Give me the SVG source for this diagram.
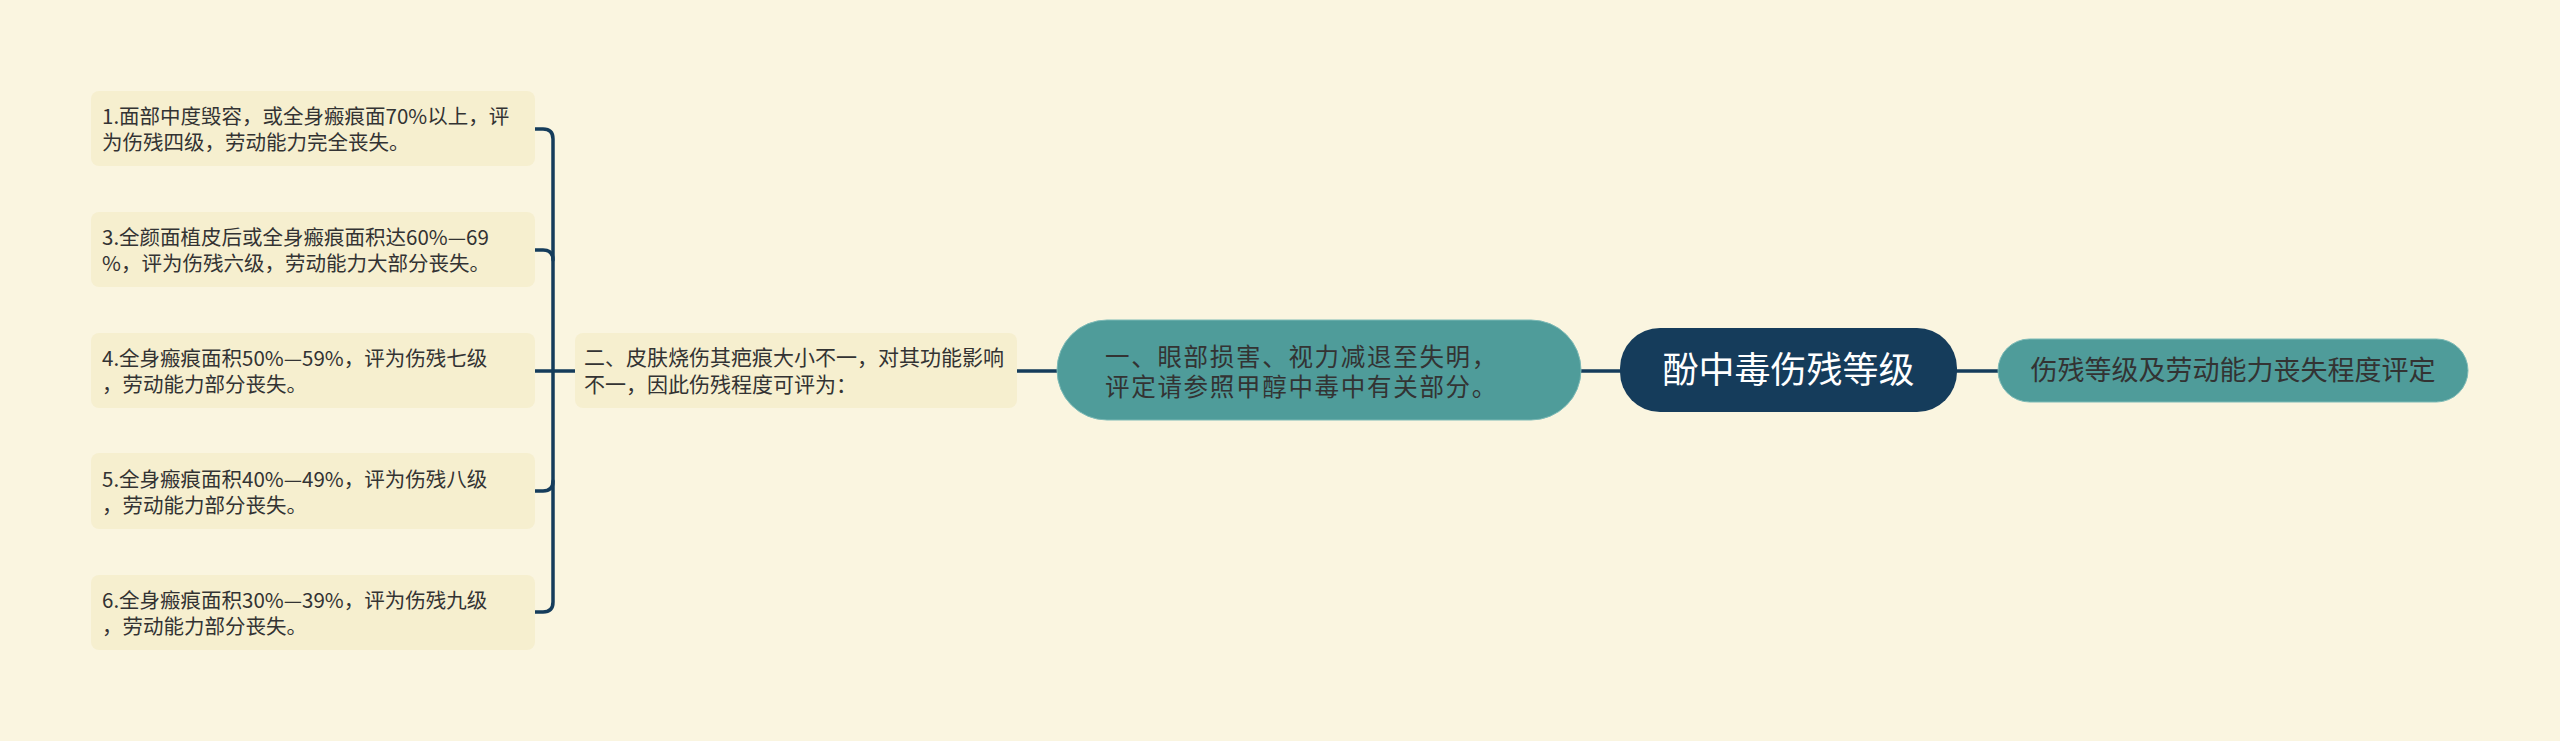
<svg xmlns="http://www.w3.org/2000/svg" width="2560" height="741" viewBox="0 0 2560 741">
<style>
.bg{fill:#FAF5E0}
.leaf{fill:#F6EFCF}
.teal{fill:#4F9C9A;stroke:#7DBAB6;stroke-width:1}
.root{fill:#153C5B}
.t{font-family:"Noto Sans CJK SC","Noto Sans",sans-serif;fill:#333333}
.ts{font-size:20.5px}
.tm{font-size:24.5px;letter-spacing:1.7px}
.tr{font-size:36px;fill:#FFFFFF}
.line{fill:none;stroke:#153C5B;stroke-width:3.5;stroke-linecap:round}
</style>
<rect class="bg" x="0" y="0" width="2560" height="741"/>
<g id="connectors">
<path class="line" d="M535,129 H543 Q553,129 553,139 V602 Q553,612 543,612 H535"/>
<path class="line" d="M535,250 H543 Q553,250 553,260"/>
<path class="line" d="M535,491 H543 Q553,491 553,481"/>
<path class="line" d="M535,371 H575"/>
<path class="line" d="M1017,371 H1057"/>
<path class="line" d="M1581,371 H1620"/>
<path class="line" d="M1957,371 H1998"/>
</g>
<g id="leaf1">
<rect class="leaf" x="91" y="91" width="444" height="75" rx="8"/>
<text class="t ts" x="102" y="124">1.面部中度毁容，或全身瘢痕面70%以上，评</text>
<text class="t ts" x="102" y="150">为伤残四级，劳动能力完全丧失。</text>
</g>
<g id="leaf2">
<rect class="leaf" x="91" y="212" width="444" height="75" rx="8"/>
<text class="t ts" x="102" y="245">3.全颜面植皮后或全身瘢痕面积达60%—69</text>
<text class="t ts" x="102" y="271">%，评为伤残六级，劳动能力大部分丧失。</text>
</g>
<g id="leaf3">
<rect class="leaf" x="91" y="333" width="444" height="75" rx="8"/>
<text class="t ts" x="102" y="366">4.全身瘢痕面积50%—59%，评为伤残七级</text>
<text class="t ts" x="102" y="392">，劳动能力部分丧失。</text>
</g>
<g id="leaf4">
<rect class="leaf" x="91" y="453" width="444" height="76" rx="8"/>
<text class="t ts" x="102" y="487">5.全身瘢痕面积40%—49%，评为伤残八级</text>
<text class="t ts" x="102" y="513">，劳动能力部分丧失。</text>
</g>
<g id="leaf5">
<rect class="leaf" x="91" y="575" width="444" height="75" rx="8"/>
<text class="t ts" x="102" y="608">6.全身瘢痕面积30%—39%，评为伤残九级</text>
<text class="t ts" x="102" y="634">，劳动能力部分丧失。</text>
</g>
<g id="node2">
<rect class="leaf" x="575" y="333" width="442" height="75" rx="8"/>
<text class="t ts" x="584" y="365" style="font-size:21px">二、皮肤烧伤其疤痕大小不一，对其功能影响</text>
<text class="t ts" x="584" y="392" style="font-size:21px">不一，因此伤残程度可评为：</text>
</g>
<g id="node1">
<rect class="teal" x="1057" y="320" width="524" height="100" rx="50"/>
<text class="t tm" x="1105" y="366">一、眼部损害、视力减退至失明，</text>
<text class="t tm" x="1105" y="396">评定请参照甲醇中毒中有关部分。</text>
</g>
<g id="root">
<rect class="root" x="1620" y="328" width="337" height="84" rx="40"/>
<text class="t tr" x="1788.5" y="383" text-anchor="middle">酚中毒伤残等级</text>
</g>
<g id="node3">
<rect class="teal" x="1998" y="339" width="470" height="63" rx="31.5"/>
<text class="t tm" x="2233" y="380" text-anchor="middle" style="font-size:27px;letter-spacing:0">伤残等级及劳动能力丧失程度评定</text>
</g>
</svg>
